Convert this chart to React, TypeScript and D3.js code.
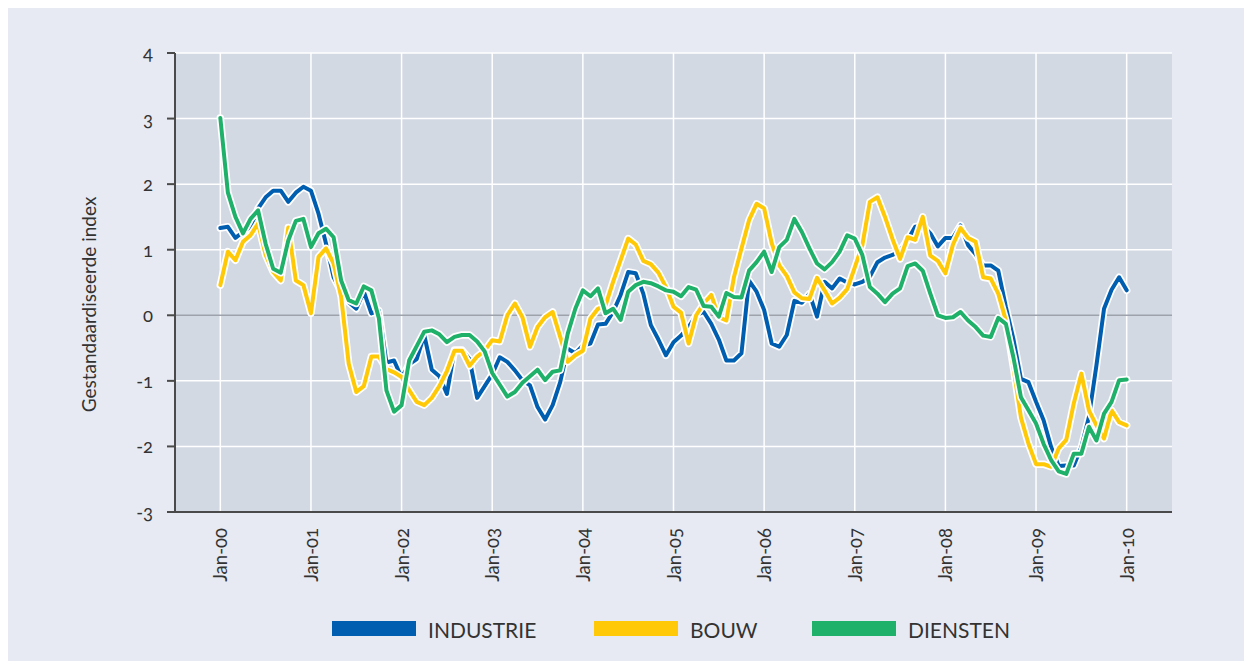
import React from 'react';
import * as d3 from 'd3';

// monthly values, Jan-00 .. Jan-10 (121 points)
const industrie = [
  1.33, 1.35, 1.18, 1.27, 1.35, 1.63, 1.80, 1.90, 1.90, 1.73,
  1.87, 1.96, 1.90, 1.55, 1.09, 0.58, 0.36, 0.20, 0.10, 0.36,
  0.03, 0.07, -0.72, -0.69, -0.95, -0.75, -0.67, -0.30, -0.83, -0.93,
  -1.20, -0.53, -0.53, -0.67, -1.26, -1.08, -0.90, -0.64, -0.71, -0.84,
  -0.99, -1.07, -1.40, -1.59, -1.37, -1.02, -0.51, -0.58, -0.46, -0.43,
  -0.14, -0.13, 0.05, 0.31, 0.66, 0.64, 0.33, -0.15, -0.37, -0.61,
  -0.41, -0.31, -0.18, 0.00, 0.05, -0.13, -0.37, -0.69, -0.69, -0.58,
  0.53, 0.36, 0.08, -0.43, -0.48, -0.30, 0.22, 0.19, 0.33, -0.02,
  0.51, 0.41, 0.56, 0.50, 0.47, 0.51, 0.59, 0.81, 0.88, 0.92,
  0.99, 1.15, 1.35, 1.37, 1.25, 1.05, 1.18, 1.18, 1.37, 1.07,
  0.93, 0.76, 0.76, 0.68, 0.13, -0.36, -0.97, -1.02, -1.32, -1.60,
  -2.01, -2.30, -2.29, -2.29, -2.01, -1.55, -0.76, 0.10, 0.39, 0.58,
  0.38,
];

const bouw = [
  0.46, 0.97, 0.84, 1.12, 1.22, 1.40, 0.92, 0.66, 0.53, 1.34,
  0.53, 0.46, 0.03, 0.89, 1.02, 0.79, 0.28, -0.74, -1.17, -1.08,
  -0.63, -0.63, -0.82, -0.87, -0.94, -1.14, -1.32, -1.37, -1.26, -1.08,
  -0.85, -0.54, -0.54, -0.77, -0.63, -0.54, -0.38, -0.40, 0.00, 0.18,
  -0.03, -0.48, -0.18, -0.03, 0.05, -0.33, -0.71, -0.61, -0.54, -0.05,
  0.10, 0.15, 0.51, 0.84, 1.17, 1.08, 0.83, 0.78, 0.65, 0.43,
  0.13, 0.04, -0.43, 0.00, 0.18, 0.31, -0.03, -0.08, 0.58, 1.02,
  1.45, 1.70, 1.63, 1.10, 0.76, 0.60, 0.35, 0.26, 0.25, 0.57,
  0.38, 0.18, 0.27, 0.40, 0.73, 1.07, 1.73, 1.80, 1.50, 1.16,
  0.86, 1.19, 1.15, 1.50, 0.91, 0.83, 0.64, 1.08, 1.33, 1.18,
  1.12, 0.58, 0.56, 0.33, -0.08, -0.79, -1.56, -1.96, -2.27, -2.27,
  -2.31, -2.03, -1.90, -1.34, -0.89, -1.45, -1.68, -1.88, -1.45, -1.63,
  -1.68,
];

const diensten = [
  3.01, 1.87, 1.50, 1.25, 1.47, 1.60, 1.09, 0.71, 0.65, 1.14,
  1.44, 1.47, 1.04, 1.25, 1.32, 1.19, 0.53, 0.23, 0.18, 0.44,
  0.38, -0.05, -1.15, -1.47, -1.37, -0.69, -0.47, -0.25, -0.23, -0.29,
  -0.41, -0.33, -0.30, -0.30, -0.40, -0.55, -0.88, -1.06, -1.24, -1.17,
  -1.03, -0.93, -0.83, -0.99, -0.86, -0.84, -0.28, 0.10, 0.38, 0.29,
  0.41, 0.03, 0.10, -0.07, 0.36, 0.46, 0.51, 0.49, 0.44, 0.38,
  0.36, 0.29, 0.43, 0.39, 0.14, 0.13, -0.02, 0.34, 0.28, 0.27,
  0.68, 0.81, 0.97, 0.66, 1.04, 1.15, 1.47, 1.27, 1.02, 0.79,
  0.70, 0.81, 0.97, 1.22, 1.17, 0.92, 0.43, 0.33, 0.20, 0.33,
  0.41, 0.75, 0.79, 0.68, 0.33, 0.00, -0.04, -0.03, 0.05, -0.08,
  -0.18, -0.31, -0.33, -0.04, -0.13, -0.64, -1.25, -1.45, -1.65, -1.96,
  -2.21, -2.38, -2.42, -2.11, -2.11, -1.70, -1.91, -1.50, -1.32, -0.99,
  -0.98,
];

const yearLabels = ['Jan-00', 'Jan-01', 'Jan-02', 'Jan-03', 'Jan-04', 'Jan-05', 'Jan-06', 'Jan-07', 'Jan-08', 'Jan-09', 'Jan-10'];
const yTicks = [-3, -2, -1, 0, 1, 2, 3, 4];

const series = [
  { name: 'INDUSTRIE', values: industrie, color: '#005eb0' },
  { name: 'BOUW', values: bouw, color: '#ffc907' },
  { name: 'DIENSTEN', values: diensten, color: '#1fb06a' },
];

const FONT = 'Lato, "Open Sans", sans-serif';

export default function App() {
  const width = 1236;
  const height = 653;
  const left = 167, right = 1164, top = 45, bottom = 504;

  // half a year of padding either side of the data
  const x = d3.scaleLinear().domain([-6, 126]).range([left, right]);
  const y = d3.scaleLinear().domain([-3, 4]).range([bottom, top]);

  const line = d3.line<number>()
    .x((_, i) => x(i))
    .y(d => y(d))
    .curve(d3.curveLinear);

  const legendX = [324, 586, 804];

  return (
    <svg width={width} height={height} style={{ display: 'block', fontFamily: FONT, fontVariantNumeric: 'oldstyle-nums' }}>
      <rect x={0} y={0} width={width} height={height} fill="#e7eaf2" />
      <rect x={left} y={top} width={right - left} height={bottom - top} fill="#d3d9e3" />

      {/* grid */}
      {yTicks.filter(t => t !== 0 && t !== -3).map(t => (
        <line key={t} x1={left} x2={right} y1={y(t)} y2={y(t)} stroke="#fff" strokeWidth={1.5} />
      ))}
      {yearLabels.map((_, i) => (
        <line key={i} x1={x(i * 12)} x2={x(i * 12)} y1={top} y2={bottom} stroke="#fff" strokeWidth={1.5} />
      ))}
      <line x1={left} x2={right} y1={y(0)} y2={y(0)} stroke="#9ea3ab" strokeWidth={1.5} />

      {/* series */}
      {series.map(s => (
        <g key={s.name}>
          <path d={line(s.values) || ''} fill="none" stroke="#fff" strokeWidth={7.5} strokeLinejoin="round" strokeLinecap="round" />
          <path d={line(s.values) || ''} fill="none" stroke={s.color} strokeWidth={4} strokeLinejoin="round" strokeLinecap="round" />
        </g>
      ))}

      {/* axes */}
      <line x1={left} x2={left} y1={top} y2={bottom} stroke="#4a4a4a" strokeWidth={2} />
      <line x1={left - 1} x2={right} y1={bottom} y2={bottom} stroke="#4a4a4a" strokeWidth={2} />
      {yTicks.map(t => (
        <g key={t}>
          <line x1={left - 8} x2={left} y1={y(t)} y2={y(t)} stroke="#4a4a4a" strokeWidth={2} />
          <text x={left - 22} y={y(t)} textAnchor="end" dominantBaseline="central" fontSize={18.5} fill="#333">
            {t}
          </text>
        </g>
      ))}
      {yearLabels.map((lab, i) => (
        <text
          key={lab}
          transform={`translate(${x(i * 12)},${bottom + 16}) rotate(-90)`}
          textAnchor="end"
          dominantBaseline="central"
          fontSize={18.5}
          fill="#333"
        >
          {lab}
        </text>
      ))}

      <text
        transform={`translate(80,${(top + bottom) / 2 + 22}) rotate(-90)`}
        textAnchor="middle"
        dominantBaseline="central"
        fontSize={19}
        fill="#333"
      >
        Gestandaardiseerde index
      </text>

      {/* legend */}
      {series.map((s, i) => (
        <g key={s.name} transform={`translate(${legendX[i]},613)`}>
          <rect x={0} y={0} width={84} height={15} fill={s.color} />
          <text x={96} y={8} dominantBaseline="central" fontSize={21} fill="#333">
            {s.name}
          </text>
        </g>
      ))}
    </svg>
  );
}
